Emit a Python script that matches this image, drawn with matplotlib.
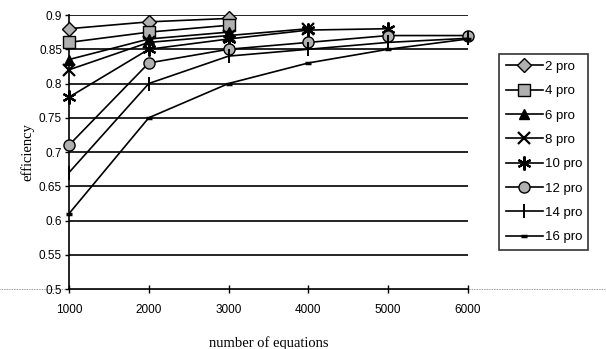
import matplotlib
matplotlib.use("Agg")
import matplotlib.pyplot as plt
from matplotlib.lines import Line2D

# data
x_all = [1000, 2000, 3000, 4000, 5000, 6000]
labels = ["2 pro", "4 pro", "6 pro", "8 pro", "10 pro", "12 pro", "14 pro", "16 pro"]
eff_2 = [0.88, 0.89, 0.895]
eff_4 = [0.86, 0.875, 0.885]
eff_6 = [0.835, 0.865, 0.875]
eff_8 = [0.82, 0.86, 0.87, 0.88]
eff_10 = [0.78, 0.85, 0.865, 0.878, 0.88]
eff_12 = [0.71, 0.83, 0.85, 0.86, 0.87, 0.87]
eff_14 = [0.67, 0.80, 0.84, 0.85, 0.86, 0.866]
eff_16 = [0.61, 0.75, 0.80, 0.83, 0.85, 0.865]
series = [eff_2, eff_4, eff_6, eff_8, eff_10, eff_12, eff_14, eff_16]
y_ticks = [0.5, 0.55, 0.6, 0.65, 0.7, 0.75, 0.8, 0.85, 0.9]

SANS = "Liberation Sans"
SERIF = "Liberation Serif"

styles = [
    dict(marker="D", markersize=7, markerfacecolor="#b0b0b0", markeredgecolor="black"),
    dict(marker="s", markersize=8, markerfacecolor="#b0b0b0", markeredgecolor="black"),
    dict(marker="^", markersize=7, markerfacecolor="black", markeredgecolor="black"),
    dict(marker="x", markersize=9, markeredgewidth=1.6, color="black"),
    dict(marker=(6, 2, 0), markersize=10, markeredgewidth=1.6, color="black"),
    dict(marker="o", markersize=8, markerfacecolor="#b0b0b0", markeredgecolor="black"),
    dict(marker="|", markersize=10, markeredgewidth=1.4, color="black"),
    dict(marker="_", markersize=5, markeredgewidth=2.5, color="black"),
]

fig = plt.figure(figsize=(6.06, 3.49), dpi=100)
ax = fig.add_axes([69 / 606, 1 - 289 / 349, (468 - 69) / 606, (289 - 15) / 349])

for yv in y_ticks[1:]:
    ax.axhline(yv, color="black", linewidth=1.2, zorder=1)

handles = []
for vals, lab, st in zip(series, labels, styles):
    kw = dict(color="black", linewidth=1.2)
    kw.update(st)
    ln, = ax.plot(x_all[:len(vals)], vals, label=lab, zorder=3, clip_on=False, **kw)
    handles.append(ln)

ax.set_xlim(1000, 6000)
ax.set_ylim(0.5, 0.9)
ax.set_xticks(x_all)
ax.set_yticks(y_ticks)
ax.set_yticklabels(["0.5", "0.55", "0.6", "0.65", "0.7", "0.75", "0.8", "0.85", "0.9"])
for s in ("top", "right"):
    ax.spines[s].set_visible(False)
ax.spines["left"].set_linewidth(1.2)
ax.spines["bottom"].set_linewidth(1.2)
ax.tick_params(axis="x", direction="inout", length=6, width=1, pad=8, labelsize=8.5)
ax.tick_params(axis="y", direction="out", length=3, width=1, pad=2, labelsize=8.5)
for t in ax.get_xticklabels() + ax.get_yticklabels():
    t.set_fontfamily(SANS)

ax.set_xlabel("number of equations", fontfamily=SERIF, fontsize=10.5, labelpad=14)
ax.set_ylabel("efficiency", fontfamily=SERIF, fontsize=10.5, labelpad=3)

# dotted scan line across the whole width at the x axis
fig.add_artist(Line2D([0, 1], [1 - 289 / 349] * 2, color="#777777", linewidth=0.6,
                      linestyle=(0, (1, 1)), zorder=0))

leg = fig.legend(handles=handles, loc="upper left", bbox_to_anchor=(499 / 606, 1 - 54 / 349),
                 frameon=True, fancybox=False, edgecolor="black", handlelength=2.8,
                 handletextpad=0.15, labelspacing=0.92, borderpad=0.5, borderaxespad=0,
                 prop={"family": SANS, "size": 9.5})
leg.get_frame().set_linewidth(1.2)

fig.savefig("out.png", dpi=100, facecolor="white")
